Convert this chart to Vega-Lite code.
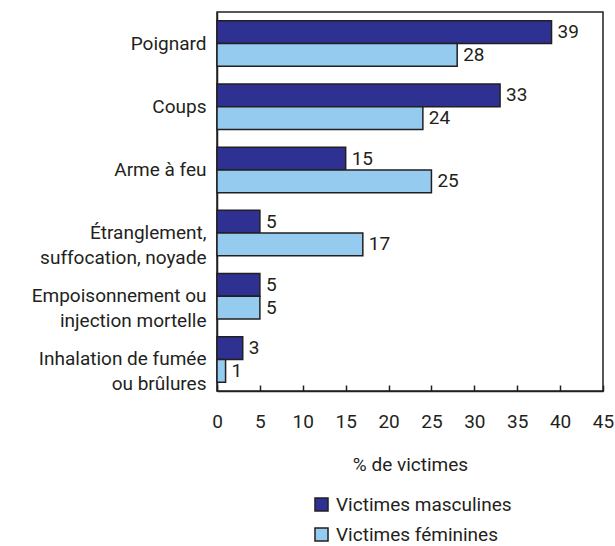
{
  "$schema": "https://vega.github.io/schema/vega-lite/v6.json",
  "width": 386,
  "height": 379,
  "autosize": {"type": "none"},
  "padding": {"left": 217, "top": 12, "right": 12, "bottom": 155},
  "background": "white",
  "config": {
    "font": "Roboto",
    "view": {"stroke": "#231f20", "strokeWidth": 1.5},
    "text": {"font": "Roboto"}
  },
  "data": {
    "values": [
      {"cause": "Poignard", "sexe": "Victimes masculines", "pct": 39},
      {"cause": "Poignard", "sexe": "Victimes féminines", "pct": 28},
      {"cause": "Coups", "sexe": "Victimes masculines", "pct": 33},
      {"cause": "Coups", "sexe": "Victimes féminines", "pct": 24},
      {"cause": "Arme à feu", "sexe": "Victimes masculines", "pct": 15},
      {"cause": "Arme à feu", "sexe": "Victimes féminines", "pct": 25},
      {"cause": "Étranglement, suffocation, noyade", "sexe": "Victimes masculines", "pct": 5},
      {"cause": "Étranglement, suffocation, noyade", "sexe": "Victimes féminines", "pct": 17},
      {"cause": "Empoisonnement ou injection mortelle", "sexe": "Victimes masculines", "pct": 5},
      {"cause": "Empoisonnement ou injection mortelle", "sexe": "Victimes féminines", "pct": 5},
      {"cause": "Inhalation de fumée ou brûlures", "sexe": "Victimes masculines", "pct": 3},
      {"cause": "Inhalation de fumée ou brûlures", "sexe": "Victimes féminines", "pct": 1}
    ]
  },
  "encoding": {
    "y": {
      "field": "cause",
      "type": "nominal",
      "sort": ["Poignard", "Coups", "Arme à feu", "Étranglement, suffocation, noyade", "Empoisonnement ou injection mortelle", "Inhalation de fumée ou brûlures"],
      "scale": {"paddingInner": 0.28, "paddingOuter": 0.14},
      "axis": {
        "title": null,
        "ticks": false,
        "domainColor": "#231f20",
        "domainWidth": 1.5,
        "labelFontSize": 19,
        "labelColor": "#231f20",
        "labelPadding": 11,
        "labelLineHeight": 25,
        "labelLimit": 300,
        "labelExpr": "datum.label == 'Étranglement, suffocation, noyade' ? ['Étranglement,', 'suffocation, noyade'] : datum.label == 'Empoisonnement ou injection mortelle' ? ['Empoisonnement ou', 'injection mortelle'] : datum.label == 'Inhalation de fumée ou brûlures' ? ['Inhalation de fumée', 'ou brûlures'] : datum.label"
      }
    },
    "yOffset": {
      "field": "sexe",
      "type": "nominal",
      "sort": ["Victimes masculines", "Victimes féminines"],
      "scale": {"paddingInner": 0, "paddingOuter": 0}
    },
    "x": {
      "field": "pct",
      "type": "quantitative",
      "scale": {"domain": [0, 45]},
      "axis": {
        "values": [0, 5, 10, 15, 20, 25, 30, 35, 40, 45],
        "grid": false,
        "tickSize": -6,
        "tickColor": "#231f20",
        "tickWidth": 1.5,
        "domainColor": "#231f20",
        "domainWidth": 1.5,
        "labelFontSize": 19,
        "labelColor": "#231f20",
        "labelPadding": 27,
        "labelFlush": false,
        "title": "% de victimes",
        "titleFontSize": 19,
        "titleFontWeight": "normal",
        "titleColor": "#231f20",
        "titlePadding": 24
      }
    }
  },
  "layer": [
    {
      "mark": {"type": "bar", "stroke": "#231f20", "strokeWidth": 1.5},
      "encoding": {
        "color": {
          "field": "sexe",
          "type": "nominal",
          "sort": ["Victimes masculines", "Victimes féminines"],
          "scale": {"domain": ["Victimes masculines", "Victimes féminines"], "range": ["#2e3192", "#94cbee"]},
          "legend": {
            "title": null,
            "orient": "none",
            "legendX": 95,
            "legendY": 483,
            "symbolType": "square",
            "symbolSize": 170,
            "symbolStrokeColor": "#231f20",
            "symbolStrokeWidth": 1.5,
            "labelFontSize": 19,
            "labelColor": "#231f20",
            "labelOffset": 5,
            "labelLimit": 300,
            "rowPadding": 9
          }
        }
      }
    },
    {
      "mark": {"type": "text", "align": "left", "baseline": "middle", "dx": 6, "fontSize": 19, "color": "#231f20"},
      "encoding": {
        "text": {"field": "pct", "type": "quantitative"}
      }
    }
  ]
}
